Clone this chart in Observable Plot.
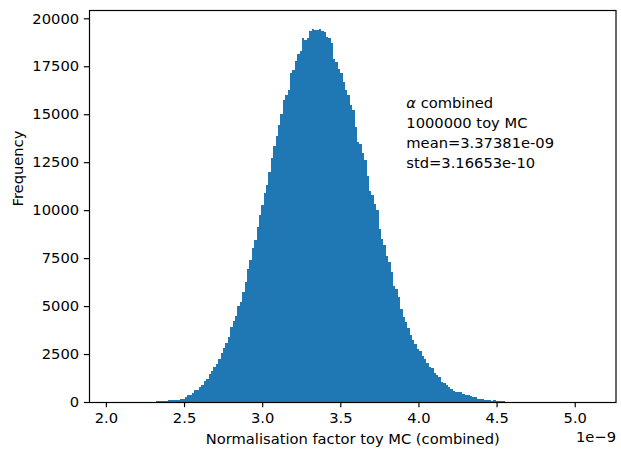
<!DOCTYPE html>
<html><head><meta charset="utf-8">
<script src="https://cdn.jsdelivr.net/npm/d3@7"></script>
<script src="https://cdn.jsdelivr.net/npm/@observablehq/plot@0.6"></script>
<style>
html,body{margin:0;padding:0;background:#fff;}
svg{font-family:"DejaVu Sans";}
</style></head><body><div id="chart"></div>
<script>
// Histogram bins (values in units of 1e-9)
const binStart = 2.045;
const binWidth = 0.015314;
const counts = [
  0,0,1,0,1,2,2,3,4,5,
  6,8,9,12,15,17,21,26,30,35,
  35,36,40,80,87,92,120,125,170,175,
  260,370,380,490,610,640,780,900,1080,1215,
  1440,1600,1805,1960,2220,2535,2795,3055,3370,3890,
  4200,4460,4980,5208,5746,6250,6944,7395,8003,8437,
  9114,9739,10260,10919,11319,12013,12708,13332,13853,14426,
  15000,15763,15989,16249,17152,17325,17759,18124,18315,18957,
  18853,18957,19339,19460,19408,19408,19460,19322,19270,19027,
  18950,18700,17898,17700,17377,17152,16683,16249,16000,15500,
  15207,14350,13558,13450,13000,12603,11800,10989,10800,10300,
  10000,9000,8472,8200,7600,7309,6800,6041,5900,5450,
  4843,4427,4149,3837,3489,3229,3003,2743,2650,2400,
  2240,2031,1850,1771,1500,1406,1302,1040,990,880,
  760,677,573,521,521,500,417,365,360,312,
  260,250,180,156,140,104,104,80,52,104,
  60,52,48,40,25,18,14,11,9,7,
  6,5,4,3,3,2,2,1,1,1,
  1,0,1,0,0,1,0,0,0,0,
  0,0,0,0,0,0,0,0,0,1
];
const xTicks = [2.0, 2.5, 3.0, 3.5, 4.0, 4.5, 5.0];
const yTicks = [0, 2500, 5000, 7500, 10000, 12500, 15000, 17500, 20000];
const annotationLines = ["α combined", "1000000 toy MC", "mean=3.37381e-09", "std=3.16653e-10"];
const xLabel = "Normalisation factor toy MC (combined)";
const yLabel = "Frequency";
const offsetLabel = "1e\u22129";

const bins = counts.map((c, i) => ({x1: binStart + i * binWidth, x2: binStart + (i + 1) * binWidth, y: c}));
const yMax = d3.max(counts) * 1.05;
const binEnd = binStart + counts.length * binWidth;
const span = binEnd - binStart;
const xDomain = [binStart - 0.05 * span, binEnd + 0.05 * span];

const fs = 14.7;
const tk = 5.2;
const lw = 1.18;
const plot = Plot.plot({
  width: 621, height: 454,
  marginLeft: 89, marginRight: 5.5, marginTop: 10, marginBottom: 52,
  style: {fontFamily: "DejaVu Sans", fontSize: fs + "px", background: "white", color: "black"},
  x: {domain: xDomain},
  y: {domain: [0, yMax]},
  marks: [
    Plot.rectY(bins, {x1: "x1", x2: "x2", y: "y", fill: "#1f77b4", shapeRendering: "crispEdges"}),
    Plot.frame({stroke: "black", strokeWidth: lw}),
    Plot.axisX({ticks: xTicks, tickSize: tk, tickPadding: tk, strokeWidth: lw, tickFormat: d3.format(".1f"), label: null}),
    Plot.axisY({ticks: yTicks, tickSize: tk, tickPadding: tk, strokeWidth: lw, tickFormat: d => String(d), label: null}),
    Plot.text([xLabel], {frameAnchor: "bottom", dy: 31, lineAnchor: "top", fontSize: fs, fill: "black"}),
    Plot.text([offsetLabel], {frameAnchor: "bottom-right", dy: 29.5, lineAnchor: "top", textAnchor: "end", fontSize: fs, fill: "black"}),
    Plot.text([yLabel], {frameAnchor: "left", dx: -71.7, rotate: -90, fontSize: fs, fill: "black"}),
    Plot.text([annotationLines.join("\n")], {x: 3.919, y: 16100, textAnchor: "start", lineAnchor: "top", lineHeight: 1.36, fontSize: fs, fill: "black"})
  ]
});
// italic alpha like matplotlib mathtext
plot.querySelectorAll("tspan").forEach(t => {
  if (t.textContent === annotationLines[0]) {
    const rest = annotationLines[0].slice(1);
    t.textContent = "";
    const a = document.createElementNS("http://www.w3.org/2000/svg", "tspan");
    a.setAttribute("font-style", "italic");
    a.textContent = annotationLines[0][0];
    t.appendChild(a);
    t.appendChild(document.createTextNode(rest));
  }
});
document.getElementById("chart").appendChild(plot);
</script></body></html>
